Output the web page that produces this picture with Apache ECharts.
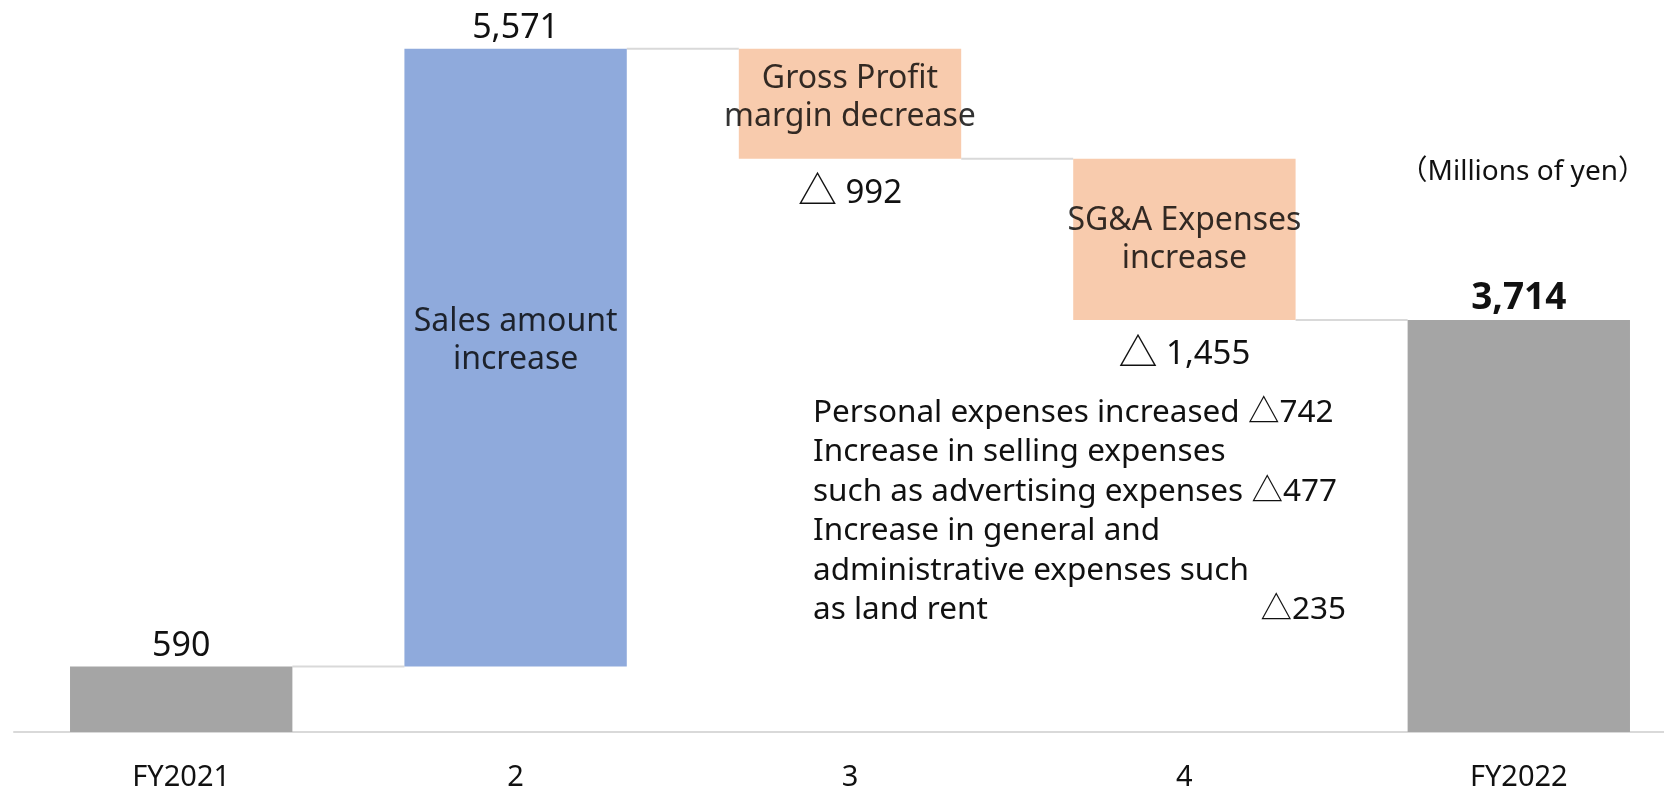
<!DOCTYPE html>
<html>
<head>
    <meta charset="utf-8" />
    <title>Operating profit bridge</title>
    <script src="https://cdn.jsdelivr.net/npm/echarts@6.0.0/dist/echarts.min.js"></script>
    <style>
        html, body { margin: 0; padding: 0; background: #fff; }
        #container { width: 1664px; height: 788px; }
    </style>
</head>
<body>
    <div id="container"></div>
    <script>
        // data
        var categories = ['FY2021', '2', '3', '4', 'FY2022'];
        var changes = [590, 5571, -992, -1455, 3714];   // first and last are totals
        var stepNames = ['', 'Sales amount\nincrease', 'Gross Profit\nmargin decrease', 'SG&A Expenses\nincrease', ''];
        var noteLines = [
            'Personal expenses increased \u25b3742',
            'Increase in selling expenses',
            'such as advertising expenses \u25b3477',
            'Increase in general and',
            'administrative expenses such',
            'as land rent'
        ];
        var noteRight = '\u25b3235';
        var unitText = '\uff08Millions of yen\uff09';

        var FONT = "'Noto Sans', 'Noto Sans CJK JP', sans-serif";
        var TEXT = '#111';

        // waterfall pieces
        var base = [], height = [], levels = [], kinds = [];
        var run = 0;
        changes.forEach(function (v, i) {
            if (i === 0 || i === changes.length - 1) {
                base.push(0); height.push(v); run = v; kinds.push('total');
            } else if (v >= 0) {
                base.push(run); height.push(v); run += v; kinds.push('up');
            } else {
                run += v; base.push(run); height.push(-v); kinds.push('down');
            }
            levels.push(run);
        });

        var colorOf = { total: '#a5a5a5', up: '#8faadc', down: '#f8cbad' };
        var fmt = function (n) { return n.toLocaleString('en-US'); };

        var barData = height.map(function (h, i) {
            var k = kinds[i];
            var last = i === changes.length - 1;
            var lbl;
            if (k === 'down') {
                lbl = {
                    show: true, position: 'bottom', distance: 15,
                    formatter: '{t|\u25b3}{n| ' + fmt(h) + '}',
                    rich: {
                        t: { fontSize: 39, fontFamily: FONT, color: TEXT },
                        n: { fontSize: 33, fontFamily: FONT, color: TEXT }
                    }
                };
            } else {
                lbl = {
                    show: true, position: 'top', distance: 3,
                    formatter: fmt(h),
                    fontWeight: last ? 'bold' : 'normal',
                    fontSize: last ? 37 : 34,
                    fontFamily: FONT,
                    color: TEXT
                };
            }
            return { value: h, itemStyle: { color: colorOf[k] }, label: lbl };
        });

        var stepLabelData = [];
        var stepOffsets = [0, -17, -6, 0, 0];
        stepNames.forEach(function (name, i) {
            if (!name) return;
            stepLabelData.push({
                value: [i, base[i] + height[i] / 2],
                label: { formatter: name, offset: [0, stepOffsets[i]] }
            });
        });

        var connectorData = [];
        for (var i = 0; i < levels.length - 1; i++) {
            connectorData.push([i, levels[i]]);
        }

        var BAR_RATIO = 0.665;

        var chart = echarts.init(document.getElementById('container'));
        var option = {
            animation: false,
            grid: { left: 14, top: 0, width: 1672, height: 732, outerBoundsMode: 'none' },
            xAxis: {
                type: 'category',
                data: categories,
                axisLine: { lineStyle: { color: '#d9d9d9', width: 2 } },
                axisTick: { show: false },
                axisLabel: { fontSize: 29, fontFamily: FONT, color: TEXT, margin: 31 }
            },
            yAxis: {
                type: 'value', min: 0, max: 6600, show: false,
                splitLine: { show: false }
            },
            series: [
                {
                    type: 'custom',
                    z: 1,
                    data: connectorData,
                    renderItem: function (params, api) {
                        var idx = api.value(0);
                        var lvl = api.value(1);
                        var p1 = api.coord([idx, lvl]);
                        var p2 = api.coord([idx + 1, lvl]);
                        var half = api.size([1, 0])[0] * BAR_RATIO / 2;
                        return {
                            type: 'line',
                            shape: { x1: p1[0] + half, y1: p1[1], x2: p2[0] - half, y2: p2[1] },
                            style: { stroke: '#d9d9d9', lineWidth: 2 }
                        };
                    }
                },
                {
                    type: 'bar',
                    stack: 'w',
                    barWidth: (BAR_RATIO * 100) + '%',
                    itemStyle: { color: 'transparent' },
                    data: base,
                    z: 2
                },
                {
                    type: 'bar',
                    stack: 'w',
                    barWidth: (BAR_RATIO * 100) + '%',
                    data: barData,
                    z: 2
                },
                {
                    type: 'scatter',
                    symbolSize: 1,
                    itemStyle: { color: 'transparent' },
                    z: 5,
                    label: {
                        show: true,
                        position: 'inside',
                        fontSize: 32,
                        lineHeight: 38,
                        fontFamily: FONT,
                        color: '#000',
                        textBorderWidth: 0,
                        align: 'center'
                    },
                    data: stepLabelData
                }
            ],
            graphic: [
                {
                    type: 'text',
                    x: 813, y: 393,
                    style: {
                        text: noteLines.join('\n'),
                        font: '31.5px ' + FONT,
                        lineHeight: 39.5,
                        fill: TEXT,
                        textAlign: 'left',
                        textVerticalAlign: 'top'
                    }
                },
                {
                    type: 'text',
                    x: 1346, y: 393 + 5 * 39.5,
                    style: {
                        text: noteRight,
                        font: '31.5px ' + FONT,
                        lineHeight: 39.5,
                        fill: TEXT,
                        textAlign: 'right',
                        textVerticalAlign: 'top'
                    }
                },
                {
                    type: 'text',
                    x: 1646, y: 172,
                    style: {
                        text: unitText,
                        font: '28px ' + FONT,
                        fill: TEXT,
                        textAlign: 'right',
                        textVerticalAlign: 'middle'
                    }
                }
            ]
        };
        chart.setOption(option);
    </script>
</body>
</html>
